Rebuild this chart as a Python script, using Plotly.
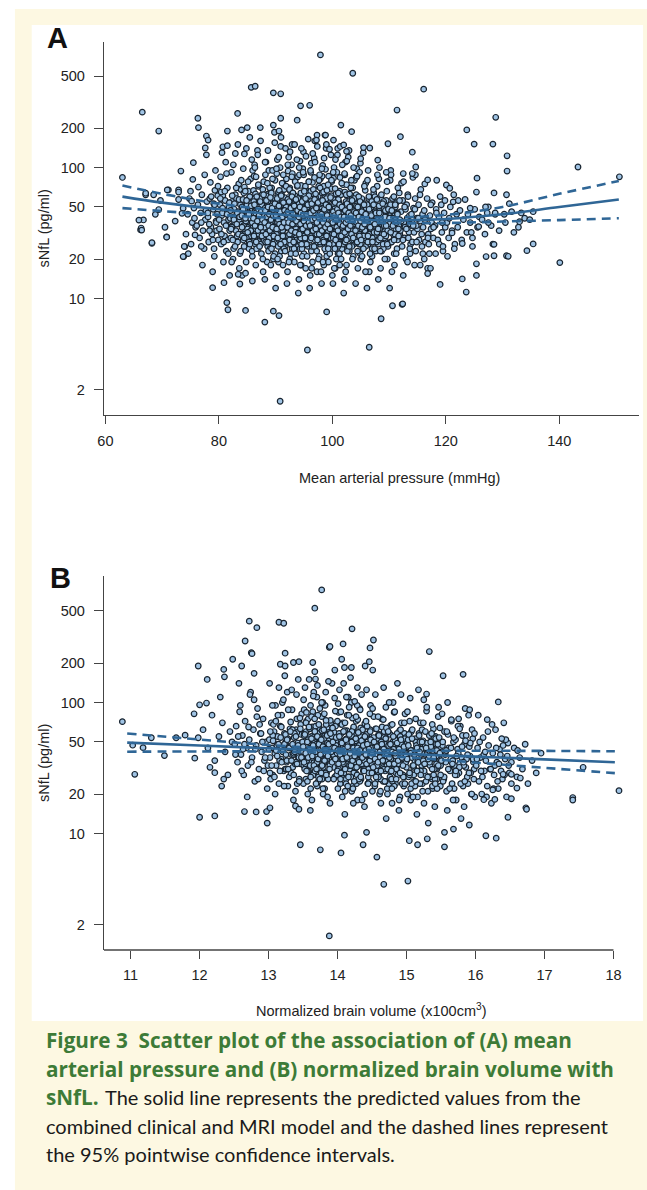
import plotly.graph_objects as go

# ---------------- DATA: panel A (mean arterial pressure vs sNfL) ----------------
a_edge = [(63.0,84),(66.5,265),(69.4,190),(97.9,725),(85.7,410),(86.4,418),(89.6,372),(90.9,366),(94.4,296),(96.0,299),
(83.3,259),(76.3,238),(76.4,202),(81.5,190),(84.0,194),(85.0,202),(87.3,202),(89.6,211),(90.9,238),(89.8,186),(90.6,190),
(93.8,230),(77.8,174),(78.1,162),(77.6,141),(77.8,125),(80.7,144),(81.5,147),(84.5,127),(75.5,109),(73.3,94),(97.3,177),
(98.7,177),(97.2,162),(103.6,525),(116.1,397),(111.4,275),(128.8,242),(123.7,194),(101.5,211),(103.4,188),(112.0,172),
(109.8,152),(125.0,151),(128.3,151),(114.1,131),(105.5,142),(130.8,123),(130.8,94),(143.3,101),(150.6,85),(125.5,83),
(125.4,65),(128.5,64),(130.7,62),(131.2,53),(132.0,32),(128.3,26),(134.8,40),(135.4,46),(133.3,45),(124.5,32),
(90.8,1.64),(95.6,4.04),(106.5,4.24),(88.1,6.6),(90.6,7.4),(89.6,8.0),(81.4,9.3),(81.6,8.2),(84.7,8.1),(99.0,7.9),
(108.6,7.0),(110.6,8.8),(112.3,9.0),(112.4,9.1),(140.1,18.8),(119.0,12.8),(123.6,11.2),(122.9,14.1),(125.4,18.4),
(125.4,15.0),(128.5,21.2),(128.5,25.9),(127.1,20.9),(130.7,21.2),(131.0,21.0),(134.3,23.2),(135.4,26.1),(68.2,26.4),
(73.8,20.9),(74.0,24.9),(78.9,12.1),(80.9,13.2),(83.7,12.9),(66.2,33.4),(66.3,34.5),(67.1,62),(68.5,62),(66.7,39.8),
(69.7,56),(68.8,43.9),(69.4,47.8),(70.8,29.6),(71.1,67.5),(72.9,67.5),(73.7,48.9),(72.9,57),(73.7,20.9),(70.5,35),
(72.3,39),(73.9,25),(75.4,81.3),(75.2,55.4),(76.9,25),(75.8,30.6),(65.9,39.7),(66.4,33.3),(68.2,26.7),(67.1,63.7),
(70.9,67.5),(72.9,65),(73.5,44.7),(70.8,29.4),(120.1,73.6),(120.7,69.5),(116.8,80.5),(114.7,101),(114.1,90),(112.5,90),
(109.5,92),(108.0,114),(106.6,141),(105.0,117),(101.4,145),(102.5,133),(100.2,162),(102.0,149),(98.8,177),(99.5,138),
(121.3,54.7),(122.2,56),(124.3,49),(127.0,50),(127.3,45),(128.7,45),(130.3,44),(125.8,35.4),(127.5,38),(122.9,26.3),
(124.7,25),(121.1,31.7),(133.0,38.6),(115.5,18),(116.8,15.5),(117.3,17),(118.2,22),(119.5,25),(120.3,21),(121.5,24),
(117.0,26),(116.2,20),(83.4,15.3),(85.9,13.6),(84.7,15.6)]

a_core = [
(74.2,31),(74.5,44),(74.8,58),(75.1,26),(75.3,38),(75.6,49),(75.9,35),(75.0,66),(74.6,22),(75.7,41),
(76.1,36),(76.3,52),(76.6,29),(76.8,45),(77.0,62),(77.2,33),(77.4,24),(77.6,40),(77.9,55),(76.4,71),(77.1,18),(77.7,47),(76.9,38),(77.5,88),
(78.1,42),(78.2,27),(78.4,58),(78.6,35),(78.8,31),(79.0,48),(79.2,21),(79.3,67),(79.5,39),(79.7,44),(79.9,28),(78.5,77),(79.1,53),(79.6,33),(78.9,16),(79.8,61),(78.3,37),(79.4,95),
(80.1,34),(80.2,52),(80.4,26),(80.5,43),(80.7,61),(80.9,38),(81.0,30),(81.2,47),(81.3,23),(81.5,70),(81.7,40),(81.9,33),(80.3,85),(80.8,19),(81.1,56),(81.4,36),(81.6,28),(81.8,50),(80.6,45),(81.2,110),(80.4,65),(81.9,15),
(82.0,41),(82.1,29),(82.3,55),(82.4,36),(82.6,24),(82.7,48),(82.9,62),(83.0,33),(83.2,44),(83.3,27),(83.5,75),(83.6,39),(83.8,52),(83.9,31),(82.2,92),(82.5,20),(82.8,38),(83.1,58),(83.4,46),(83.7,22),(83.9,68),(82.3,35),(82.9,128),(83.6,17),(83.2,30),(82.6,42),
(84.0,37),(84.1,50),(84.3,28),(84.4,64),(84.6,42),(84.7,33),(84.9,25),(85.0,56),(85.2,40),(85.3,46),(85.5,30),(85.6,82),(85.8,36),(85.9,21),(84.2,45),(84.5,71),(84.8,19),(85.1,35),(85.4,59),(85.7,27),(84.3,98),(85.0,44),(85.6,38),(84.9,52),(85.8,115),(84.6,31),(85.3,24),(84.1,15),(85.9,48),(85.2,66),
(86.0,43),(86.1,31),(86.3,58),(86.4,26),(86.6,39),(86.7,50),(86.9,35),(87.0,72),(87.2,28),(87.3,45),(87.5,22),(87.6,62),(87.8,37),(87.9,54),(86.2,86),(86.5,18),(86.8,41),(87.1,33),(87.4,48),(87.7,29),(86.3,105),(86.9,24),(87.5,40),(86.1,67),(87.2,56),(87.8,16),(86.6,32),(87.0,38),(86.4,47),(87.9,78),(86.8,135),(87.3,30),(86.2,53),(87.6,42),
(88.0,40),(88.1,55),(88.3,30),(88.4,46),(88.6,25),(88.7,63),(88.9,36),(89.0,43),(89.2,28),(89.3,70),(89.5,38),(89.6,51),(89.8,33),(89.9,22),(88.2,88),(88.5,19),(88.8,48),(89.1,35),(89.4,58),(89.7,27),(88.3,110),(88.9,41),(89.5,31),(88.1,14),(89.2,66),(89.8,45),(88.6,37),(89.0,24),(88.4,52),(89.9,80),(88.7,29),(89.3,42),(88.2,34),(89.6,20),(88.8,95),(89.4,39),(88.5,60),(89.1,47),
(90.0,36),(90.1,49),(90.3,27),(90.4,62),(90.6,41),(90.7,31),(90.9,54),(91.0,23),(91.2,44),(91.3,75),(91.5,34),(91.6,47),(91.8,29),(91.9,58),(90.2,90),(90.5,19),(90.8,38),(91.1,52),(91.4,40),(91.7,25),(90.3,115),(90.9,33),(91.5,68),(90.1,15),(91.2,57),(91.8,43),(90.6,28),(91.0,39),(90.4,46),(91.9,82),(90.7,21),(91.3,35),(90.2,50),(91.6,30),(90.8,100),(91.4,26),(90.5,65),(91.1,42),(90.0,12),(91.7,37),(90.9,145),(91.3,18),
(92.0,38),(92.1,52),(92.3,29),(92.4,45),(92.6,66),(92.7,33),(92.9,24),(93.0,41),(93.2,57),(93.3,30),(93.5,48),(93.6,36),(93.8,72),(93.9,27),(92.2,94),(92.5,20),(92.8,43),(93.1,35),(93.4,61),(93.7,40),(92.3,120),(92.9,31),(93.5,54),(92.1,16),(93.2,46),(93.8,25),(92.6,39),(93.0,28),(92.4,50),(93.9,85),(92.7,22),(93.3,37),(92.2,59),(93.6,44),(92.8,105),(93.4,34),(92.5,70),(93.1,26),(92.0,13),(93.7,49),(92.9,150),(93.3,19),(92.6,42),(93.8,32),
(94.0,35),(94.1,48),(94.3,27),(94.4,60),(94.6,41),(94.7,31),(94.9,53),(95.0,22),(95.2,44),(95.3,68),(95.5,37),(95.6,50),(95.8,29),(95.9,40),(94.2,88),(94.5,18),(94.8,39),(95.1,56),(95.4,33),(95.7,25),(94.3,112),(94.9,45),(95.5,64),(94.1,14),(95.2,30),(95.8,47),(94.6,36),(95.0,26),(94.4,52),(95.9,78),(94.7,21),(95.3,42),(94.2,57),(95.6,34),(94.8,98),(95.4,28),(94.5,73),(95.1,38),(94.0,11),(95.7,46),(94.9,132),(95.3,17),(94.6,43),(95.8,32),(94.3,24),(95.0,62),
(96.0,39),(96.1,28),(96.3,51),(96.4,34),(96.6,63),(96.7,24),(96.9,44),(97.0,36),(97.2,56),(97.3,30),(97.5,41),(97.6,72),(97.8,26),(97.9,47),(96.2,92),(96.5,19),(96.8,38),(97.1,53),(97.4,33),(97.7,21),(96.3,108),(96.9,42),(97.5,60),(96.1,15),(97.2,29),(97.8,49),(96.6,37),(97.0,25),(96.4,55),(97.9,82),(96.7,31),(97.3,45),(96.2,66),(97.6,35),(96.8,118),(97.4,27),(96.5,77),(97.1,40),(96.0,12),(97.7,43),(96.9,160),(97.3,16),(96.6,48),(97.8,32),(96.3,23),(97.0,58),
(98.0,37),(98.1,50),(98.3,27),(98.4,43),(98.6,62),(98.7,32),(98.9,23),(99.0,46),(99.2,35),(99.3,57),(99.5,29),(99.6,40),(99.8,69),(99.9,33),(98.2,86),(98.5,18),(98.8,41),(99.1,52),(99.4,25),(99.7,38),(98.3,104),(98.9,30),(99.5,47),(98.1,13),(99.2,60),(99.8,44),(98.6,36),(99.0,21),(98.4,54),(99.9,78),(98.7,28),(99.3,42),(98.2,64),(99.6,31),(98.8,97),(99.4,36),(98.5,72),(99.1,26),(98.0,16),(99.7,49),(98.9,140),(99.3,19),(98.6,45),(99.8,24),
(100.0,35),(100.1,48),(100.3,26),(100.4,59),(100.6,40),(100.7,30),(100.9,52),(101.0,22),(101.2,43),(101.3,66),(101.5,34),(101.6,45),(101.8,28),(101.9,38),(100.2,83),(100.5,17),(100.8,37),(101.1,55),(101.4,31),(101.7,24),(100.3,100),(100.9,41),(101.5,62),(100.1,13),(101.2,29),(101.8,47),(100.6,35),(101.0,25),(100.4,50),(101.9,74),(100.7,20),(101.3,39),(100.2,57),(101.6,33),(100.8,92),(101.4,27),(100.5,69),(101.1,36),(100.0,15),(101.7,44),(100.9,125),(101.3,18),
(102.0,39),(102.1,27),(102.3,50),(102.4,33),(102.6,61),(102.7,24),(102.9,42),(103.0,35),(103.2,54),(103.3,29),(103.5,40),(103.6,70),(103.8,26),(103.9,46),(102.2,88),(102.5,18),(102.8,37),(103.1,51),(103.4,32),(103.7,21),(102.3,110),(102.9,43),(103.5,58),(102.1,14),(103.2,30),(103.8,48),(102.6,36),(103.0,23),(102.4,55),(103.9,80),(102.7,31),(103.3,44),(102.2,65),(103.6,34),(102.8,120),(103.4,28),(102.5,74),(103.1,38),(102.0,11),(103.7,45),
(104.0,36),(104.1,49),(104.3,27),(104.4,41),(104.6,60),(104.7,31),(104.9,22),(105.0,44),(105.2,34),(105.3,55),(105.5,28),(105.6,39),(105.8,67),(105.9,32),(104.2,84),(104.5,17),(104.8,40),(105.1,51),(105.4,24),(105.7,37),(104.3,98),(104.9,30),(105.5,46),(104.1,13),(105.2,58),(105.8,43),(104.6,35),(105.0,20),(104.4,53),(105.9,76),(104.7,26),(105.3,41),(104.2,62),(105.6,29),(104.8,92),(105.4,36),
(106.0,34),(106.1,47),(106.3,26),(106.4,58),(106.6,39),(106.7,30),(106.9,50),(107.0,21),(107.2,42),(107.3,64),(107.5,33),(107.6,44),(107.8,27),(107.9,37),(106.2,80),(106.5,16),(106.8,36),(107.1,53),(107.4,30),(107.7,23),(106.3,95),(106.9,40),(107.5,60),(106.1,12),(107.2,28),(107.8,46),(106.6,35),(107.0,24),(106.4,49),(107.9,72),(106.7,19),(107.3,38),
(108.0,37),(108.1,26),(108.3,49),(108.4,32),(108.6,58),(108.7,23),(108.9,41),(109.0,34),(109.2,52),(109.3,28),(109.5,39),(109.6,66),(109.8,25),(109.9,44),(108.2,82),(108.5,17),(108.8,36),(109.1,48),(109.4,31),(109.7,20),(108.3,100),(108.9,42),(109.5,56),(108.1,14),(109.2,29),(109.8,47),(108.6,35),(109.0,24),
(110.0,35),(110.1,48),(110.3,27),(110.4,40),(110.6,58),(110.7,31),(110.9,22),(111.0,43),(111.2,34),(111.3,54),(111.5,28),(111.6,38),(111.8,64),(111.9,31),(110.2,80),(110.5,16),(110.8,39),(111.1,50),(111.4,24),(111.7,36),(110.3,95),(110.9,29),(111.5,45),(110.1,12),
(112.0,33),(112.1,46),(112.3,25),(112.4,56),(112.6,38),(112.7,29),(112.9,48),(113.0,20),(113.2,41),(113.3,62),(113.5,32),(113.6,43),(113.8,26),(113.9,36),(112.2,76),(112.5,15),(112.8,35),(113.1,52),(113.4,29),(113.7,22),
(114.0,38),(114.1,27),(114.3,49),(114.4,32),(114.6,58),(114.7,23),(114.9,41),(115.0,34),(115.2,52),(115.3,28),(115.5,39),(115.6,68),(115.8,25),(115.9,44),(114.2,84),(114.5,18),(114.8,36),
(116.0,35),(116.2,47),(116.4,27),(116.5,41),(116.7,58),(116.9,31),(117.1,22),(117.2,43),(117.4,34),(117.6,54),(117.8,29),(116.3,75),(116.8,17),(117.5,38),
(118.1,36),(118.3,48),(118.6,28),(118.8,42),(119.0,60),(119.3,32),(119.5,23),(119.7,45),(119.9,35),(118.4,80),(119.2,52),
(120.2,38),(120.5,29),(120.8,50),(121.1,33),(121.4,62),(121.6,26),(121.9,44),(120.6,41),
(122.1,35),(122.5,47),(122.8,28),(123.1,40),(123.4,57),(123.7,32),(123.9,44),
(124.3,38),(124.7,29),(125.1,48),(125.6,35),(125.9,42),
(126.4,40),(126.9,31),(127.5,50),(128.0,36),(128.7,44),(129.4,33),
(130.5,38),(131.6,46),(132.8,35),(133.9,41)]

a_dense = [
(78.05,45),(78.35,33),(78.65,60),(78.95,28),(79.25,52),(79.55,38),(79.85,72),(79.15,24),
(80.05,40),(80.25,58),(80.45,31),(80.65,49),(80.85,27),(81.05,66),(81.25,36),(81.45,44),(81.65,22),(81.85,54),(80.55,130),(81.35,90),
(82.05,47),(82.15,34),(82.35,61),(82.45,28),(82.65,40),(82.75,53),(82.85,25),(83.05,70),(83.15,37),(83.25,45),(83.45,31),(83.55,57),(83.65,42),(83.85,23),(83.95,80),(82.55,105),(83.35,150),(82.25,19),
(84.05,43),(84.15,30),(84.25,57),(84.35,36),(84.45,25),(84.55,48),(84.65,66),(84.75,39),(84.85,29),(84.95,52),(85.05,34),(85.15,78),(85.25,45),(85.35,27),(85.45,60),(85.55,41),(85.65,33),(85.75,54),(85.85,23),(85.95,95),(84.85,140),(85.45,170),
(86.05,38),(86.15,55),(86.25,29),(86.35,46),(86.45,63),(86.55,34),(86.65,24),(86.75,50),(86.85,41),(86.95,74),(87.05,31),(87.15,44),(87.25,58),(87.35,26),(87.45,37),(87.55,52),(87.65,33),(87.75,68),(87.85,43),(87.95,28),(86.35,100),(86.85,125),(87.35,160),(87.75,20),(86.55,85),(87.05,48),
(88.05,35),(88.15,49),(88.25,27),(88.35,61),(88.45,42),(88.55,32),(88.65,54),(88.75,23),(88.85,45),(88.95,70),(89.05,37),(89.15,51),(89.25,30),(89.35,40),(89.45,82),(89.55,26),(89.65,47),(89.75,35),(89.85,58),(89.95,43),(88.15,110),(88.65,135),(89.15,18),(89.45,95),(89.85,155),(88.35,38),(88.85,29),(89.25,64),(89.65,21),(88.55,76),
(90.05,44),(90.15,31),(90.25,56),(90.35,38),(90.45,25),(90.55,48),(90.65,67),(90.75,35),(90.85,28),(90.95,52),(91.05,41),(91.15,76),(91.25,33),(91.35,46),(91.45,24),(91.55,59),(91.65,39),(91.75,30),(91.85,50),(91.95,37),(90.15,98),(90.55,120),(90.95,170),(91.35,88),(91.75,140),(90.35,20),(91.05,62),(91.55,27),(90.75,43),(91.25,55),(91.85,72),(90.45,34),
(92.05,40),(92.15,57),(92.25,30),(92.35,44),(92.45,68),(92.55,36),(92.65,26),(92.75,50),(92.85,39),(92.95,61),(93.05,32),(93.15,45),(93.25,24),(93.35,54),(93.45,78),(93.55,35),(93.65,47),(93.75,28),(93.85,41),(93.95,58),(92.15,105),(92.55,132),(92.95,90),(93.35,150),(93.75,115),(92.35,19),(93.05,64),(93.55,22),(92.75,43),(93.25,37),(93.85,73),(92.45,31),(93.15,52),(92.85,85),
(94.05,37),(94.15,53),(94.25,28),(94.35,42),(94.45,64),(94.55,33),(94.65,24),(94.75,47),(94.85,38),(94.95,57),(95.05,30),(95.15,43),(95.25,72),(95.35,35),(95.45,26),(95.55,50),(95.65,40),(95.75,31),(95.85,61),(95.95,45),(94.15,100),(94.55,140),(94.95,88),(95.35,122),(95.75,165),(94.35,18),(95.05,66),(95.55,21),(94.75,41),(95.25,34),(95.85,78),(94.45,29),(95.15,55),(94.85,92),
(96.05,42),(96.15,30),(96.25,55),(96.35,37),(96.45,25),(96.55,48),(96.65,68),(96.75,34),(96.85,44),(96.95,28),(97.05,59),(97.15,39),(97.25,23),(97.35,51),(97.45,33),(97.55,46),(97.65,80),(97.75,36),(97.85,27),(97.95,53),(96.15,95),(96.55,128),(96.95,110),(97.35,145),(97.75,88),(96.35,17),(97.05,63),(97.55,20),(96.75,40),(97.25,31),(97.85,70),(96.45,35),(97.15,49),(96.85,84),
(98.05,39),(98.15,54),(98.25,29),(98.35,43),(98.45,65),(98.55,33),(98.65,24),(98.75,47),(98.85,37),(98.95,58),(99.05,31),(99.15,42),(99.25,74),(99.35,35),(99.45,26),(99.55,50),(99.65,39),(99.75,29),(99.85,61),(99.95,44),(98.15,98),(98.55,118),(98.95,150),(99.35,86),(99.75,125),(98.35,19),(99.05,67),(99.55,22),(98.75,41),(99.25,33),(99.85,80),(98.45,28),
(100.05,41),(100.15,29),(100.25,53),(100.35,36),(100.45,24),(100.55,46),(100.65,63),(100.75,33),(100.85,42),(100.95,27),(101.05,57),(101.15,38),(101.25,22),(101.35,49),(101.45,32),(101.55,44),(101.65,76),(101.75,35),(101.85,26),(101.95,51),(100.15,92),(100.55,115),(100.95,140),(101.35,84),(101.75,105),(100.35,17),(101.05,64),(101.55,20),(100.75,39),(101.25,30),
(102.05,36),(102.15,50),(102.25,27),(102.35,41),(102.45,62),(102.55,31),(102.65,23),(102.75,45),(102.85,35),(102.95,55),(103.05,29),(103.15,40),(103.25,70),(103.35,33),(103.45,25),(103.55,47),(103.65,37),(103.75,28),(103.85,58),(103.95,42),(102.15,90),(102.55,112),(102.95,135),(103.35,80),(103.75,100),(102.35,16),(103.05,63),(103.55,20),
(104.05,39),(104.15,28),(104.25,51),(104.35,34),(104.45,23),(104.55,44),(104.65,60),(104.75,31),(104.85,41),(104.95,26),(105.05,54),(105.15,36),(105.25,21),(105.35,47),(105.45,30),(105.55,42),(105.65,72),(105.75,33),(105.85,25),(105.95,49),(104.35,86),(104.95,108),(105.45,130),(105.85,16),
(106.05,37),(106.15,52),(106.25,27),(106.35,41),(106.45,60),(106.55,31),(106.65,22),(106.75,45),(106.85,34),(106.95,55),(107.05,29),(107.15,39),(107.25,68),(107.35,32),(107.45,24),(107.55,46),(107.65,36),(107.75,27),(107.85,57),(107.95,88),
(108.05,40),(108.15,28),(108.25,51),(108.35,34),(108.45,23),(108.55,44),(108.65,62),(108.75,31),(108.85,39),(108.95,26),(109.05,55),(109.15,36),(109.25,20),(109.35,47),(109.45,30),(109.55,42),(109.65,78),(109.75,33),
(110.05,37),(110.25,52),(110.45,27),(110.65,41),(110.85,60),(111.05,31),(111.25,22),(111.45,45),(111.65,34),(111.85,56),(110.35,88),(110.95,18),(111.55,70),(111.15,40),
(112.15,39),(112.45,28),(112.75,50),(113.05,34),(113.35,60),(113.65,24),(113.95,44),(112.55,78),(113.25,19),(113.75,37),
(114.25,36),(114.55,48),(114.85,27),(115.15,41),(115.45,62),(115.75,31),(114.65,88),(115.95,22),
(116.35,40),(116.85,29),(117.35,52),(117.85,35),(118.35,45),(118.85,26),(119.35,38),(119.85,56)]

a_dense2 = [
(84.08,35),(84.28,48),(84.48,29),(84.68,41),(84.88,56),(85.08,32),(85.28,44),(85.48,26),(85.68,51),(85.88,38),
(86.08,41),(86.18,30),(86.28,52),(86.38,36),(86.48,45),(86.58,27),(86.68,60),(86.78,39),(86.88,33),(86.98,48),(87.08,43),(87.18,25),(87.28,55),(87.38,35),(87.48,46),(87.58,30),(87.68,40),(87.88,62),
(88.08,38),(88.18,47),(88.28,31),(88.38,56),(88.48,42),(88.58,27),(88.68,50),(88.78,36),(88.88,44),(88.98,33),(89.08,59),(89.18,40),(89.28,24),(89.38,49),(89.48,35),(89.58,43),(89.68,30),(89.88,53),
(90.08,43),(90.18,34),(90.28,58),(90.38,29),(90.48,40),(90.58,51),(90.68,37),(90.78,46),(90.88,26),(90.98,61),(91.08,35),(91.18,42),(91.28,30),(91.38,54),(91.48,38),(91.58,47),(91.68,23),(91.88,44),
(92.08,35),(92.18,46),(92.28,38),(92.38,55),(92.48,28),(92.58,42),(92.68,49),(92.78,33),(92.88,60),(92.98,37),(93.08,44),(93.18,27),(93.28,51),(93.38,40),(93.48,32),(93.58,57),(93.68,39),(93.88,47),
(94.08,42),(94.18,31),(94.28,50),(94.38,37),(94.48,45),(94.58,26),(94.68,55),(94.78,34),(94.88,43),(94.98,39),(95.08,48),(95.18,29),(95.28,58),(95.38,36),(95.48,44),(95.58,32),(95.68,52),(95.88,38),
(96.08,36),(96.18,45),(96.28,29),(96.38,53),(96.48,40),(96.58,33),(96.68,47),(96.78,25),(96.88,57),(96.98,41),(97.08,34),(97.18,49),(97.28,38),(97.38,28),(97.48,54),(97.58,42),(97.68,31),(97.88,45),
(98.08,44),(98.18,33),(98.28,56),(98.38,38),(98.48,27),(98.58,48),(98.68,41),(98.78,35),(98.88,52),(98.98,30),(99.08,43),(99.18,37),(99.28,24),(99.38,50),(99.48,40),(99.58,34),(99.68,59),(99.88,39),
(100.08,38),(100.18,46),(100.28,31),(100.38,43),(100.48,54),(100.58,28),(100.68,40),(100.78,35),(100.88,48),(100.98,33),(101.08,45),(101.18,26),(101.28,52),(101.38,37),(101.48,42),(101.58,30),(101.68,50),(101.88,36),
(102.08,42),(102.18,32),(102.28,47),(102.38,38),(102.48,28),(102.58,53),(102.68,40),(102.78,34),(102.88,45),(102.98,25),(103.08,50),(103.18,36),(103.28,43),(103.38,31),(103.48,56),(103.58,39),(103.68,29),(103.88,46),
(104.08,33),(104.18,45),(104.28,38),(104.38,27),(104.48,50),(104.58,36),(104.68,42),(104.78,30),(104.88,55),(104.98,39),(105.08,28),(105.18,46),(105.28,35),(105.38,41),(105.48,24),(105.58,52),(105.68,37),(105.88,44),
(106.08,40),(106.28,30),(106.48,48),(106.68,35),(106.88,43),(107.08,27),(107.28,52),(107.48,37),(107.68,45),(107.88,32),
(108.08,34),(108.28,45),(108.48,29),(108.68,40),(108.88,53),(109.08,31),(109.28,42),(109.48,36),(109.68,26),(109.88,48),
(110.08,41),(110.28,32),(110.48,47),(110.68,36),(110.88,28),(111.08,52),(111.28,38),(111.48,44),(111.68,30),(111.88,40)]

# model curve (A): predicted values and 95% pointwise CI
a_curve_map = [63, 70, 80, 90, 100, 110, 120, 130, 140, 150.5]
a_fit       = [60, 54, 48, 44, 41, 39.5, 40.5, 44, 50, 57]
a_upper     = [73, 63, 53, 47, 43, 41.5, 43.5, 50, 63, 79]
a_lower     = [49, 46.5, 43.5, 41.2, 39, 37.6, 37.7, 38.7, 39.7, 41]

# ---------------- DATA: panel B (normalized brain volume vs sNfL) ----------------
b_edge = [(10.88,71.4),(11.03,47.2),(11.18,45.2),(11.06,28.3),(11.30,53.8),(11.49,39.3),(11.66,53.8),(11.79,56.3),
(11.93,37.6),(11.98,53.8),(11.98,190),(12.11,150),(11.92,82),(12.00,96),(12.10,99),(12.22,29.1),(12.32,23),(12.35,26),
(12.35,179),(12.36,157),(12.48,214),(12.61,190),(12.66,295),(12.72,418),(12.83,373),(12.75,240),(12.76,236),(13.15,410),
(13.22,403),(13.24,238),(13.17,196),(13.24,190),(13.36,202),(13.44,205),(13.64,202),(13.67,172),(13.68,151),(13.77,724),
(13.67,525),(13.88,264),(12.79,167),(14.21,365),(14.52,300),(14.47,261),(13.89,268),(14.08,280),(14.06,214),(13.96,177),
(14.10,185),(14.20,185),(14.40,190),(14.46,205),(14.51,177),(15.33,245),(15.53,160),(15.82,164),(16.33,101),(16.17,74),
(15.29,116),(15.65,74),(15.77,63),(16.61,43),(17.56,32),(18.08,21.2),(17.41,18.8),(16.40,28.3),(16.52,28.3),(16.65,26.5),
(16.52,24),(16.60,22.2),(16.25,21.5),(16.12,18.1),(16.28,18.2),(16.52,18.4),(16.73,15.7),(12.00,13.3),(12.22,13.6),
(12.65,14.7),(12.82,14.6),(12.97,14.7),(13.02,15.7),(12.98,12.0),(13.39,16.2),(13.44,15.3),(13.46,8.2),(13.75,7.5),
(13.88,1.65),(14.67,4.09),(15.02,4.33),(14.57,6.6),(14.05,7.1),(14.37,8.2),(15.16,8.2),(15.04,8.8),(15.30,9.1),
(15.55,7.9),(15.55,10.2),(15.68,10.8),(16.15,9.6),(16.30,9.2),(15.91,11.6),(16.47,13.3),(16.74,15.3),(17.41,18.0),
(14.10,9.7),(14.42,10.2)]

b_core = [
(12.05,62),(12.12,45),(12.18,80),(12.22,36),(12.28,55),(12.33,70),(12.37,42),(12.41,28),(12.44,60),(12.47,50),(12.15,32),(12.30,110),
(12.51,48),(12.53,66),(12.55,35),(12.58,85),(12.60,40),(12.62,56),(12.64,28),(12.66,72),(12.68,45),(12.70,33),(12.72,52),(12.74,120),(12.76,38),(12.78,62),(12.80,25),(12.82,47),(12.84,90),(12.86,31),(12.88,58),(12.90,42),(12.92,75),(12.94,36),(12.96,50),(12.98,22),(12.57,140),(12.69,19),(12.79,105),(12.87,68),(12.63,44),(12.93,30),
(13.01,52),(13.02,38),(13.04,70),(13.05,45),(13.06,28),(13.08,60),(13.09,41),(13.10,95),(13.11,33),(13.13,55),(13.14,48),(13.15,24),(13.17,66),(13.18,37),(13.19,80),(13.21,43),(13.22,30),(13.23,58),(13.25,50),(13.26,35),(13.27,120),(13.29,46),(13.30,27),(13.31,63),(13.33,40),(13.34,88),(13.35,32),(13.37,54),(13.38,44),(13.39,21),(13.41,75),(13.42,39),(13.43,150),(13.45,49),(13.46,34),(13.47,57),(13.49,42),(13.03,26),(13.07,68),(13.12,47),(13.16,36),(13.20,100),(13.24,31),(13.28,53),(13.32,45),(13.36,18),(13.40,62),(13.44,38),(13.48,82),(13.02,29),(13.06,56),(13.11,43),(13.15,130),(13.19,35),(13.23,48),(13.28,23),(13.32,71),(13.36,40),(13.41,59),(13.46,44),
(13.50,45),(13.51,33),(13.52,58),(13.53,40),(13.54,26),(13.55,72),(13.56,38),(13.57,50),(13.58,30),(13.59,64),(13.60,42),(13.61,22),(13.62,55),(13.63,36),(13.64,85),(13.65,47),(13.66,28),(13.67,61),(13.68,41),(13.69,34),(13.70,110),(13.71,49),(13.72,25),(13.73,67),(13.74,39),(13.75,52),(13.76,31),(13.77,78),(13.78,44),(13.79,20),(13.80,57),(13.81,37),(13.82,95),(13.83,46),(13.84,29),(13.85,63),(13.86,35),(13.87,53),(13.88,43),(13.89,17),(13.90,70),(13.91,40),(13.92,140),(13.93,48),(13.94,32),(13.95,59),(13.96,27),(13.97,66),(13.98,38),(13.99,51),
(13.505,24),(13.515,88),(13.525,45),(13.535,34),(13.545,60),(13.555,42),(13.565,30),(13.575,75),(13.585,36),(13.595,54),(13.605,15),(13.615,47),(13.625,28),(13.635,65),(13.645,41),(13.655,120),(13.665,50),(13.675,33),(13.685,57),(13.695,39),(13.705,23),(13.715,80),(13.725,44),(13.735,31),(13.745,62),(13.755,37),(13.765,49),(13.775,26),(13.785,100),(13.795,43),(13.805,35),(13.815,56),(13.825,29),(13.835,68),(13.845,40),(13.855,19),(13.865,52),(13.875,46),(13.885,34),(13.895,73),
(14.00,40),(14.01,55),(14.02,31),(14.03,47),(14.04,24),(14.05,68),(14.06,36),(14.07,44),(14.08,28),(14.09,60),(14.10,39),(14.11,21),(14.12,52),(14.13,34),(14.14,80),(14.15,45),(14.16,27),(14.17,58),(14.18,38),(14.19,32),(14.20,100),(14.21,46),(14.22,23),(14.23,63),(14.24,37),(14.25,50),(14.26,29),(14.27,72),(14.28,42),(14.29,18),(14.30,54),(14.31,35),(14.32,90),(14.33,43),(14.34,26),(14.35,59),(14.36,33),(14.37,49),(14.38,41),(14.39,16),(14.40,66),(14.41,38),(14.42,125),(14.43,45),(14.44,30),(14.45,56),(14.46,25),(14.47,62),(14.48,36),(14.49,48),
(14.005,22),(14.015,84),(14.025,43),(14.035,32),(14.045,57),(14.055,40),(14.065,28),(14.075,70),(14.085,34),(14.095,51),(14.105,14),(14.115,44),(14.125,26),(14.135,61),(14.145,39),(14.155,110),(14.165,47),(14.175,31),(14.185,53),(14.195,37),(14.205,21),(14.215,76),(14.225,41),(14.235,29),(14.245,58),(14.255,35),(14.265,46),(14.275,24),(14.285,95),(14.295,40),(14.305,33),(14.315,52),(14.325,27),(14.335,64),(14.345,38),(14.355,18),(14.365,49),(14.375,43),(14.385,31),(14.395,69),(14.405,36),(14.425,55),(14.445,27),(14.465,42),(14.485,34),
(14.50,38),(14.51,52),(14.52,29),(14.53,44),(14.54,23),(14.55,63),(14.56,34),(14.57,41),(14.58,26),(14.59,56),(14.60,37),(14.61,20),(14.62,48),(14.63,32),(14.64,75),(14.65,42),(14.66,25),(14.67,54),(14.68,36),(14.69,30),(14.70,92),(14.71,43),(14.72,22),(14.73,59),(14.74,35),(14.75,47),(14.76,27),(14.77,67),(14.78,39),(14.79,17),(14.80,50),(14.81,33),(14.82,84),(14.83,40),(14.84,24),(14.85,55),(14.86,31),(14.87,45),(14.88,38),(14.89,15),(14.90,61),(14.91,35),(14.92,115),(14.93,42),(14.94,28),(14.95,52),(14.96,23),(14.97,58),(14.98,34),(14.99,45),
(14.505,21),(14.525,78),(14.545,40),(14.565,30),(14.585,53),(14.605,37),(14.625,26),(14.645,65),(14.665,32),(14.685,48),(14.705,13),(14.725,41),(14.745,24),(14.765,57),(14.785,36),(14.805,100),(14.825,44),(14.845,29),(14.865,49),(14.885,34),(14.905,19),(14.925,70),(14.945,38),(14.965,27),(14.985,54),
(14.515,35),(14.555,46),(14.595,28),(14.635,39),(14.675,60),(14.715,33),(14.755,43),(14.795,25),(14.835,36),(14.875,51),
(15.00,36),(15.01,49),(15.03,27),(15.04,42),(15.06,22),(15.07,60),(15.09,33),(15.10,39),(15.11,25),(15.13,53),(15.14,35),(15.16,19),(15.17,46),(15.19,30),(15.20,70),(15.21,40),(15.23,24),(15.24,51),(15.26,34),(15.27,28),(15.29,86),(15.30,41),(15.31,21),(15.33,56),(15.34,33),(15.36,45),(15.37,26),(15.39,63),(15.40,37),(15.41,16),(15.43,48),(15.44,31),(15.46,78),(15.47,38),(15.49,23),
(15.02,52),(15.05,29),(15.08,43),(15.12,36),(15.15,14),(15.18,58),(15.22,33),(15.25,105),(15.28,40),(15.32,27),(15.35,50),(15.38,22),(15.42,55),(15.45,32),(15.48,44),(15.015,20),(15.045,72),(15.075,38),(15.105,28),(15.135,50),(15.165,35),(15.195,24),(15.225,62),(15.255,30),(15.285,45),(15.315,12),(15.345,39),(15.375,23),(15.405,54),(15.435,34),(15.465,92),(15.495,41),(15.06,18),(15.27,47),(15.44,26),
(15.50,34),(15.52,47),(15.54,26),(15.56,40),(15.58,21),(15.60,57),(15.62,31),(15.64,37),(15.66,24),(15.68,50),(15.70,33),(15.72,18),(15.74,44),(15.76,29),(15.78,66),(15.80,38),(15.82,23),(15.84,48),(15.86,32),(15.88,27),(15.90,80),(15.92,39),(15.94,20),(15.96,53),(15.98,31),
(15.51,42),(15.53,25),(15.55,60),(15.57,35),(15.59,15),(15.61,45),(15.63,30),(15.65,72),(15.67,36),(15.69,22),(15.71,52),(15.73,28),(15.75,41),(15.77,34),(15.79,13),(15.81,56),(15.83,33),(15.85,90),(15.87,37),(15.89,24),(15.91,46),(15.93,29),(15.95,62),(15.97,35),(15.99,19),
(16.01,33),(16.03,45),(16.05,25),(16.07,38),(16.09,20),(16.11,54),(16.13,30),(16.15,36),(16.17,23),(16.19,47),(16.21,31),(16.23,17),(16.25,41),(16.27,28),(16.29,62),(16.31,35),(16.33,22),(16.35,44),(16.37,30),(16.39,26),(16.41,70),(16.43,37),(16.45,19),(16.47,49),(16.49,29),(16.12,40),(16.28,33),(16.44,52),
(16.52,35),(16.56,45),(16.60,27),(16.64,38),(16.68,31),(16.72,48),(16.76,24),(16.82,36),(16.88,29),(16.95,41)]

b_dense = [
(12.52,40),(12.56,55),(12.61,30),(12.65,48),(12.71,65),(12.75,35),(12.81,44),(12.85,26),(12.89,58),(12.95,38),(12.59,95),(12.73,115),(12.83,78),(12.91,50),(12.99,33),
(13.005,44),(13.025,60),(13.045,33),(13.065,51),(13.085,27),(13.105,72),(13.125,39),(13.145,48),(13.165,30),(13.185,65),(13.205,42),(13.225,23),(13.245,57),(13.265,36),(13.285,88),(13.305,46),(13.325,29),(13.345,62),(13.365,41),(13.385,34),(13.405,115),(13.425,49),(13.445,26),(13.465,68),(13.485,38),(13.015,140),(13.055,95),(13.095,20),(13.135,80),(13.175,54),(13.215,105),(13.255,31),(13.295,45),(13.335,125),(13.375,58),(13.415,24),(13.455,76),(13.495,43),(13.235,160),(13.395,35),
(13.503,42),(13.513,56),(13.523,31),(13.533,47),(13.543,70),(13.553,36),(13.563,25),(13.573,52),(13.583,40),(13.593,63),(13.603,33),(13.613,45),(13.623,78),(13.633,38),(13.643,28),(13.653,54),(13.663,43),(13.673,30),(13.683,66),(13.693,48),(13.703,35),(13.713,58),(13.723,27),(13.733,44),(13.743,90),(13.753,39),(13.763,29),(13.773,61),(13.783,46),(13.793,32),(13.803,53),(13.813,22),(13.823,41),(13.833,73),(13.843,37),(13.853,49),(13.863,26),(13.873,59),(13.883,42),(13.893,34),
(13.508,105),(13.528,130),(13.548,84),(13.568,20),(13.588,150),(13.608,95),(13.628,18),(13.648,112),(13.668,75),(13.688,24),(13.708,135),(13.728,68),(13.748,51),(13.768,100),(13.788,22),(13.808,82),(13.828,120),(13.848,57),(13.868,145),(13.888,33),(13.908,45),(13.928,64),(13.948,38),(13.968,86),(13.988,28),(13.918,55),(13.938,40),(13.958,108),(13.978,47),(13.998,72),
(14.003,44),(14.013,31),(14.023,58),(14.033,39),(14.043,26),(14.053,50),(14.063,68),(14.073,35),(14.083,46),(14.093,29),(14.103,61),(14.113,41),(14.123,24),(14.133,53),(14.143,37),(14.153,48),(14.163,80),(14.173,33),(14.183,43),(14.193,27),(14.203,56),(14.213,38),(14.223,22),(14.233,65),(14.243,45),(14.253,32),(14.263,51),(14.273,40),(14.283,28),(14.293,74),(14.303,36),(14.313,47),(14.323,25),(14.333,55),(14.343,42),(14.353,34),(14.363,62),(14.373,30),(14.383,45),(14.393,20),
(14.008,98),(14.028,125),(14.048,85),(14.068,19),(14.088,140),(14.108,70),(14.128,110),(14.148,23),(14.168,92),(14.188,155),(14.208,60),(14.228,17),(14.248,102),(14.268,78),(14.288,130),(14.308,26),(14.328,88),(14.348,115),(14.368,52),(14.388,36),(14.408,43),(14.428,66),(14.448,31),(14.468,82),(14.488,39),(14.418,57),(14.438,24),(14.458,48),(14.478,95),(14.498,34),(14.413,72),(14.433,40),(14.453,29),(14.473,60),(14.493,45),
(14.503,40),(14.513,29),(14.523,54),(14.533,36),(14.543,24),(14.553,46),(14.563,63),(14.573,33),(14.583,43),(14.593,27),(14.603,57),(14.613,38),(14.623,21),(14.633,50),(14.643,35),(14.653,45),(14.663,74),(14.673,31),(14.683,41),(14.693,25),(14.703,53),(14.713,36),(14.723,20),(14.733,60),(14.743,42),(14.753,30),(14.763,48),(14.773,37),(14.783,26),(14.793,68),(14.803,34),(14.813,44),(14.823,23),(14.833,52),(14.843,39),(14.853,31),(14.863,58),(14.873,28),(14.883,42),(14.893,18),
(14.508,90),(14.548,115),(14.588,78),(14.628,17),(14.668,130),(14.708,64),(14.748,100),(14.788,22),(14.828,85),(14.868,140),(14.908,55),(14.928,40),(14.948,28),(14.968,70),(14.988,35),(14.918,48),(14.938,24),(14.958,44),(14.978,82),(14.998,32),(14.913,62),(14.933,37),(14.953,27),(14.973,53),(14.993,41),
(15.003,38),(15.023,52),(15.043,28),(15.063,43),(15.083,62),(15.103,32),(15.123,23),(15.143,47),(15.163,36),(15.183,56),(15.203,30),(15.223,41),(15.243,70),(15.263,34),(15.283,25),(15.303,49),(15.323,38),(15.343,27),(15.363,58),(15.383,43),(15.403,31),(15.423,53),(15.443,22),(15.463,40),(15.483,64),
(15.013,85),(15.053,108),(15.093,19),(15.133,75),(15.173,125),(15.213,44),(15.253,17),(15.293,92),(15.333,35),(15.373,68),(15.413,26),(15.453,48),(15.493,33),(15.033,57),(15.073,24),(15.113,40),(15.153,30),(15.193,50),(15.233,21),(15.273,60),(15.313,37),(15.353,46),(15.393,28),(15.433,39),(15.473,54),
(15.505,36),(15.525,50),(15.545,27),(15.565,42),(15.585,60),(15.605,31),(15.625,22),(15.645,45),(15.665,34),(15.685,54),(15.705,28),(15.725,39),(15.745,66),(15.765,32),(15.785,24),(15.805,46),(15.825,35),(15.845,25),(15.865,56),(15.885,40),(15.905,29),(15.925,49),(15.945,20),(15.965,37),(15.985,58),
(15.515,82),(15.595,100),(15.675,18),(15.755,75),(15.835,16),(15.915,88),(15.575,43),(15.715,30),(15.855,51),(15.975,26),
(16.02,37),(16.06,50),(16.10,27),(16.14,42),(16.18,60),(16.22,31),(16.26,22),(16.30,45),(16.34,34),(16.38,53),(16.42,28),(16.46,39),(16.04,80),(16.16,19),(16.24,68),(16.32,25),(16.40,47),(16.48,33),(16.08,30),(16.36,40)]

b_dense2 = [
(13.252,40),(13.268,52),(13.284,31),(13.300,45),(13.316,60),(13.332,36),(13.348,48),(13.364,28),(13.380,42),(13.396,55),(13.412,34),(13.428,47),(13.444,25),(13.460,63),(13.476,38),(13.492,50),
(13.502,46),(13.514,35),(13.526,57),(13.538,41),(13.550,30),(13.562,50),(13.574,38),(13.586,65),(13.598,44),(13.610,27),(13.622,53),(13.634,39),(13.646,47),(13.658,33),(13.670,60),(13.682,42),(13.694,31),(13.706,55),(13.718,37),(13.730,48),(13.742,26),(13.748,43),
(13.752,40),(13.764,52),(13.776,33),(13.788,46),(13.800,62),(13.812,36),(13.824,44),(13.836,28),(13.848,56),(13.860,39),(13.872,48),(13.884,31),(13.896,58),(13.908,42),(13.920,35),(13.932,50),(13.944,26),(13.956,45),(13.968,37),(13.980,54),(13.992,41),(13.998,30),
(14.002,43),(14.014,34),(14.026,55),(14.038,40),(14.050,29),(14.062,49),(14.074,37),(14.086,60),(14.098,44),(14.110,31),(14.122,52),(14.134,38),(14.146,46),(14.158,27),(14.170,57),(14.182,41),(14.194,33),(14.206,50),(14.218,36),(14.230,45),(14.242,25),(14.248,39),
(14.252,42),(14.264,53),(14.276,32),(14.288,45),(14.300,59),(14.312,35),(14.324,43),(14.336,27),(14.348,51),(14.360,38),(14.372,47),(14.384,30),(14.396,55),(14.408,40),(14.420,34),(14.432,48),(14.444,24),(14.456,44),(14.468,36),(14.480,52),(14.492,39),(14.498,29),
(14.502,41),(14.516,32),(14.530,50),(14.544,37),(14.558,27),(14.572,46),(14.586,35),(14.600,56),(14.614,42),(14.628,30),(14.642,48),(14.656,36),(14.670,44),(14.684,25),(14.698,53),(14.712,39),(14.726,31),(14.740,47),(14.746,34),(14.734,60),
(14.752,38),(14.766,48),(14.780,30),(14.794,42),(14.808,55),(14.822,34),(14.836,41),(14.850,26),(14.864,49),(14.878,36),(14.892,44),(14.906,29),(14.920,52),(14.934,38),(14.948,33),(14.962,46),(14.976,24),(14.990,40),
(15.008,37),(15.026,47),(15.044,29),(15.062,41),(15.080,53),(15.098,33),(15.116,40),(15.134,25),(15.152,45),(15.170,35),(15.188,42),(15.206,28),(15.224,50),(15.242,36),
(15.262,34),(15.284,45),(15.306,27),(15.328,39),(15.350,50),(15.372,31),(15.394,38),(15.416,24),(15.438,43),(15.460,33),(15.482,41),(15.494,28)]

b_curve_nbv = [10.95, 12, 13, 14, 15, 16, 17, 18.02]
b_fit       = [49.4, 46.9, 44.7, 42.6, 40.5, 38.6, 36.8, 35.0]
b_upper     = [58.0, 52.1, 47.4, 44.3, 42.9, 42.8, 42.7, 42.4]
b_lower     = [42.1, 42.3, 42.2, 41.0, 38.2, 34.8, 31.7, 28.9]

ytick_vals = [2, 10, 20, 50, 100, 200, 500]
a_xticks = [60, 80, 100, 120, 140]
b_xticks = [11, 12, 13, 14, 15, 16, 17, 18]

caption_bold_1 = "Figure 3  Scatter plot of the association of (A) mean"
caption_bold_2 = "arterial pressure and (B) normalized brain volume with"
caption_bold_3 = "sNfL."
caption_reg_3 = "The solid line represents the predicted values from the"
caption_reg_4 = "combined clinical and MRI model and the dashed lines represent"
caption_reg_5 = "the 95% pointwise confidence intervals."

# ---------------- FIGURE ----------------
W, H = 647, 1190
def fx(px): return px / W
def fy(py): return 1 - py / H

PT_FILL = "#a0c4e5"
PT_EDGE = "#17232f"
LINE_C = "#2f6696"
AX_C = "#444444"
FONT = "Liberation Sans, Arial, sans-serif"
GREEN = "#3d7b37"

fig = go.Figure()

def add_panel(pts, cx, fit, up, lo, xa, ya):
    fig.add_trace(go.Scatter(x=[p[0] for p in pts], y=[p[1] for p in pts], mode="markers",
                             xaxis=xa, yaxis=ya, showlegend=False, hoverinfo="skip",
                             marker=dict(size=5.6, color=PT_FILL, line=dict(color=PT_EDGE, width=1.2))))
    for yy, dash in ((up, "9px,6px"), (lo, "9px,6px"), (fit, "solid")):
        fig.add_trace(go.Scatter(x=cx, y=yy, mode="lines", xaxis=xa, yaxis=ya, showlegend=False,
                                 hoverinfo="skip",
                                 line=dict(color=LINE_C, width=2.6, dash=dash, shape="spline")))

add_panel(a_core + a_dense + a_dense2 + a_edge, a_curve_map, a_fit, a_upper, a_lower, "x", "y")
add_panel(b_core + b_dense + b_dense2 + b_edge, b_curve_nbv, b_fit, b_upper, b_lower, "x2", "y2")

tickfont = dict(family=FONT, size=14.5, color="#222222")
common_x = dict(ticks="outside", ticklen=8, tickwidth=1, tickcolor=AX_C, showgrid=False,
                zeroline=False, tickfont=tickfont, ticklabelstandoff=4)
common_y = dict(type="log", ticks="outside", ticklen=9, tickwidth=1, tickcolor=AX_C, showgrid=False,
                zeroline=False, tickfont=tickfont, tickvals=ytick_vals,
                ticktext=[str(v) for v in ytick_vals], showline=True, linecolor=AX_C, linewidth=1.3,
                ticklabelstandoff=6)

fig.update_layout(
    width=W, height=H, margin=dict(l=0, r=0, t=0, b=0),
    paper_bgcolor="white", plot_bgcolor="rgba(0,0,0,0)",
    xaxis=dict(domain=[fx(98), fx(639)], range=[59.74, 154.07], anchor="y", tickvals=a_xticks,
               showline=True, linecolor=AX_C, linewidth=1.3, **common_x),
    yaxis=dict(domain=[fy(415), fy(42)], range=[0.110, 2.959], anchor="x", **common_y),
    xaxis2=dict(domain=[fx(98), fx(641)], range=[10.613, 18.40], anchor="y2", tickvals=b_xticks,
                showline=False, **common_x),
    yaxis2=dict(domain=[fy(950), fy(576)], range=[0.110, 2.966], anchor="x2", **common_y),
)

shapes = [
    dict(type="rect", xref="paper", yref="paper", x0=fx(8), x1=1, y0=0, y1=fy(9),
         fillcolor="#fdf8e2", line=dict(width=0), layer="below"),
    dict(type="rect", xref="paper", yref="paper", x0=fx(25), x1=fx(643), y0=fy(1021), y1=fy(25),
         fillcolor="white", line=dict(width=0), layer="below"),
    dict(type="line", xref="x2", yref="y2 domain", x0=10.613, x1=18.0, y0=0, y1=0,
         line=dict(color=AX_C, width=1.3)),
]
fig.update_layout(shapes=shapes)

ann = []
def add_text(text, px, py, font, **kw):
    d = dict(text=text, x=fx(px), y=fy(py), xref="paper", yref="paper", showarrow=False, font=font,
             xanchor=kw.pop("xanchor", "center"), yanchor=kw.pop("yanchor", "middle"))
    d.update(kw)
    ann.append(d)

add_text("<b>A</b>", 51.5, 38.5, dict(family=FONT, size=29, color="#111111"))
add_text("<b>B</b>", 54, 577.5, dict(family=FONT, size=29, color="#111111"))
title_font = dict(family=FONT, size=14.5, color="#222222")
add_text("Mean arterial pressure (mmHg)", 396.5, 478, title_font)
add_text("Normalized brain volume (x100cm<sup>3</sup>)", 367.5, 1010, title_font)
add_text("sNfL (pg/ml)", 37.5, 228.5, title_font, textangle=-90)
add_text("sNfL (pg/ml)", 37.5, 763, title_font, textangle=-90)

bold_font = dict(family="Open Sans, Lato, sans-serif", size=20.7, color=GREEN, weight="bold")
reg_font = dict(family="Lato, 'Open Sans', sans-serif", size=20, color="#1a1a1a")
add_text(caption_bold_1, 37, 1040, bold_font, xanchor="left")
add_text(caption_bold_2, 37, 1068.5, bold_font, xanchor="left")
add_text(caption_bold_3, 37, 1097, bold_font, xanchor="left")
add_text(caption_reg_3, 97, 1097, reg_font, xanchor="left")
add_text(caption_reg_4, 37, 1125.5, reg_font, xanchor="left")
add_text(caption_reg_5, 37, 1154, reg_font, xanchor="left")
fig.update_layout(annotations=ann)

fig.write_html("out.html", config={"displayModeBar": False},
               post_script="document.body.style.margin='0px';document.body.style.overflow='hidden';")
